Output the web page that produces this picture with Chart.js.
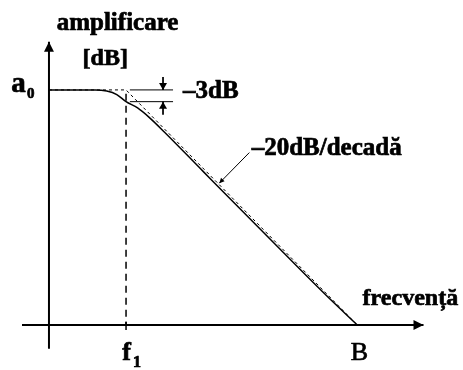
<!DOCTYPE html>
<html>
<head>
<meta charset="utf-8">
<script src="https://cdn.jsdelivr.net/npm/chart.js@4"></script>
<style>
  body { margin: 0; background: #fff; }
  #wrap { width: 463px; height: 370px; }
</style>
</head>
<body>
<div id="wrap"><canvas id="bode"></canvas></div>
<script>
// x = log10(f) in decades from the origin, y = gain in dB
const a0 = 60;
const f1 = 1;
const B = 4;

// measured response, read point by point
const curveX = [0, 0.6, 0.75, 0.88, 1.0, 1.15, 1.3, 1.5, 2, 3, 3.6, 4];
const curveY = [60, 60, 59.7, 58.8, 57, 55.4, 53.0, 49.2, 39.2, 19.3, 7.5, 0];

// straight-line asymptotes: flat at a0, then -20 dB/decade down to B
const asymX = [0, f1, B];
const asymY = [a0, a0, 0];

// axis extents
const xAxisX = [-0.35, 4.86];
const yAxisY = [-6.1, 72.3];

// -3dB marker: the two levels and the arrows between them
const levelY = [a0, a0 - 3];
const levelX = [1.05, 1.61];
const arrowX = 1.48;

// leader for the slope label
const leaderX = [2.21, 2.6];
const leaderY = [36.2, 44];

const labels = [
  { text: "amplificare", x: 0.89, y: 75.3, size: 25, align: "center", bold: true },
  { text: "[dB]", x: 0.73, y: 66.4, size: 24, align: "center", bold: true },
  { text: "a", x: -0.3, y: 59.5, size: 29, align: "right", bold: true },
  { text: "0", x: -0.285, y: 58, size: 15, align: "left", bold: true },
  { text: "–3dB", x: 1.74, y: 58, size: 25, align: "left", bold: true },
  { text: "–20dB/decadă", x: 2.63, y: 43.4, size: 25, align: "left", bold: true },
  { text: "frecvență", x: 4.07, y: 5.1, size: 24, align: "left", bold: true },
  { text: "f", x: 0.95, y: -8.9, size: 26, align: "left", bold: true },
  { text: "1", x: 1.09, y: -10.7, size: 16, align: "left", bold: true },
  { text: "B", x: 4.03, y: -8.9, size: 26, align: "center", bold: false },
];

function pts(xs, ys) {
  return xs.map((x, i) => ({ x: x, y: ys[i] }));
}

function seg(data, dash, width) {
  return {
    data: data,
    borderColor: "#000",
    borderWidth: width,
    borderDash: dash,
    pointRadius: 0,
    fill: false,
  };
}

var curve = seg(pts(curveX, curveY), [], 1.5);
curve.cubicInterpolationMode = "monotone";

var datasets = [
  seg(pts(xAxisX, [0, 0]), [], 2),
  seg(pts([0, 0], yAxisY), [], 2),
  seg(pts(asymX, asymY), [3, 3], 1),
  curve,
  seg(pts([f1, f1], [a0 - 1, 0]), [7, 5], 1.5),
  seg(pts([f1, f1], [0.8, -1.3]), [], 1.5),
  seg(pts(levelX, [levelY[0], levelY[0]]), [], 1),
  seg(pts(levelX, [levelY[1], levelY[1]]), [], 1),
  seg(pts([arrowX, arrowX], [levelY[0] + 3.3, levelY[0]]), [], 1),
  seg(pts([arrowX, arrowX], [levelY[1], levelY[1] - 3.3]), [], 1),
  seg(pts(leaderX, leaderY), [], 1),
];

function head(ctx, x1, y1, x2, y2, len, half) {
  var a = Math.atan2(y2 - y1, x2 - x1);
  ctx.beginPath();
  ctx.moveTo(x2, y2);
  ctx.lineTo(x2 - len * Math.cos(a) + half * Math.sin(a), y2 - len * Math.sin(a) - half * Math.cos(a));
  ctx.lineTo(x2 - len * Math.cos(a) - half * Math.sin(a), y2 - len * Math.sin(a) + half * Math.cos(a));
  ctx.closePath();
  ctx.fill();
}

const decor = {
  id: "decor",
  afterDatasetsDraw(chart) {
    var ctx = chart.ctx;
    var sx = chart.scales.x;
    var sy = chart.scales.y;
    ctx.save();
    ctx.fillStyle = "#000";
    ctx.strokeStyle = "#000";

    // axis arrows
    head(ctx, sx.getPixelForValue(xAxisX[0]), sy.getPixelForValue(0),
      sx.getPixelForValue(xAxisX[1]), sy.getPixelForValue(0), 10, 5);
    head(ctx, sx.getPixelForValue(0), sy.getPixelForValue(yAxisY[0]),
      sx.getPixelForValue(0), sy.getPixelForValue(yAxisY[1]), 10, 5);

    // -3dB arrows, pointing at the levels
    var ax = sx.getPixelForValue(arrowX);
    head(ctx, ax, sy.getPixelForValue(levelY[0] + 3.3), ax, sy.getPixelForValue(levelY[0]), 7, 4);
    head(ctx, ax, sy.getPixelForValue(levelY[1] - 3.3), ax, sy.getPixelForValue(levelY[1]), 7, 4);

    // leader arrow onto the slope
    head(ctx, sx.getPixelForValue(leaderX[1]), sy.getPixelForValue(leaderY[1]),
      sx.getPixelForValue(leaderX[0]), sy.getPixelForValue(leaderY[0]), 5, 2.5);

    // heavy serif labels
    ctx.textBaseline = "alphabetic";
    ctx.lineWidth = 0.7;
    labels.forEach((l) => {
      ctx.font = (l.bold ? "bold " : "") + l.size + "px 'Liberation Serif'";
      ctx.textAlign = l.align;
      var px = sx.getPixelForValue(l.x);
      var py = sy.getPixelForValue(l.y);
      ctx.fillText(l.text, px, py);
      ctx.strokeText(l.text, px, py);
    });
    ctx.restore();
  },
};

new Chart(document.getElementById("bode"), {
  type: "line",
  data: { datasets: datasets },
  plugins: [decor],
  options: {
    responsive: true,
    maintainAspectRatio: false,
    animation: false,
    layout: { padding: { left: 22, right: 21, top: 39, bottom: 20 } },
    plugins: {
      legend: { display: false },
      tooltip: { enabled: false },
    },
    scales: {
      x: { type: "linear", min: -0.35, max: 5.1, display: false },
      y: { type: "linear", min: -6.4, max: 73, display: false },
    },
  },
});
</script>
</body>
</html>
